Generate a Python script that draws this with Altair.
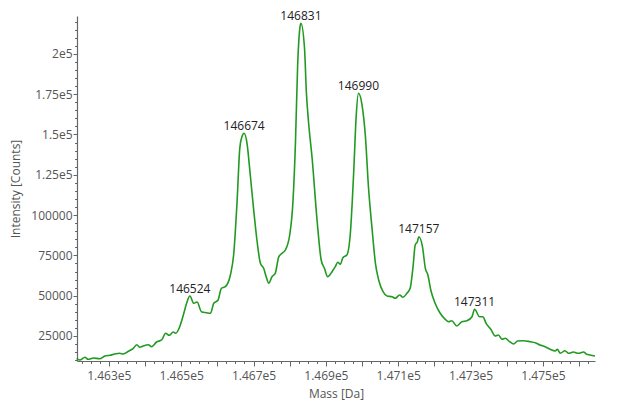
import altair as alt
import pandas as pd

mass = [146211, 146220, 146234, 146243, 146257, 146275, 146289, 146303, 146317, 146330,
        146340, 146354, 146367, 146377, 146386, 146395, 146409, 146418, 146432, 146446,
        146457, 146467, 146478, 146485, 146496, 146506, 146515, 146524, 146535, 146544,
        146556, 146570, 146581, 146590, 146602, 146611, 146622, 146636, 146645, 146655,
        146662, 146668, 146674, 146682, 146691, 146700, 146710, 146719, 146728, 146735,
        146742, 146751, 146760, 146770, 146779, 146788, 146800, 146809, 146816, 146822,
        146828, 146831, 146841, 146846, 146852, 146862, 146876, 146887, 146896, 146905,
        146917, 146926, 146933, 146940, 146947, 146958, 146968, 146977, 146984, 146990,
        147000, 147009, 147018, 147028, 147037, 147046, 147058, 147069, 147083, 147092,
        147104, 147113, 147124, 147133, 147141, 147147, 147153, 147157, 147167, 147175,
        147182, 147190, 147202, 147216, 147230, 147239, 147248, 147262, 147276, 147290,
        147304, 147311, 147325, 147334, 147343, 147356, 147368, 147377, 147387, 147396,
        147408, 147419, 147430, 147446, 147465, 147479, 147492, 147506, 147520, 147534,
        147540, 147548, 147561, 147571, 147584, 147598, 147612, 147621, 147630, 147644]

intensity = [11170, 10110, 11790, 10550, 11350, 10920, 12590, 13030, 13830, 14270,
             13830, 15510, 17120, 19600, 17990, 18800, 19600, 18360, 21280, 22520,
             26670, 25430, 27480, 26670, 30770, 38030, 45280, 49810, 45280, 46090,
             40070, 39450, 39080, 45280, 47330, 54590, 55580, 62840, 75240, 110400,
             141430, 148630, 150740, 144530, 124870, 104210, 83490, 70100, 66990, 61780,
             57690, 61780, 63890, 74190, 76300, 78350, 87650, 108310, 145520, 193100,
             215870, 218970, 203460, 176540, 157930, 135230, 95900, 72140, 66990, 61780,
             64890, 67990, 70720, 69480, 73570, 75240, 89700, 126920, 162090, 175550,
             168290, 149680, 116620, 90750, 70100, 59740, 52480, 49810, 49380, 48390,
             50430, 49010, 51490, 54590, 67990, 81450, 83490, 86600, 80390, 66990,
             62840, 53530, 45280, 39080, 35360, 33870, 34490, 31200, 33870, 34490,
             36970, 41560, 36970, 36970, 32880, 29160, 25000, 25620, 22950, 23570,
             21460, 20040, 21900, 22080, 21460, 20840, 19420, 18360, 16750, 15700,
             16750, 14270, 15880, 14270, 15080, 14270, 15080, 13650, 13210, 12590]

peak_mass = [146524, 146674, 146831, 146990, 147157, 147311]
peak_intensity = [49810, 150740, 218970, 175550, 86600, 41560]
peak_label = ["146524", "146674", "146831", "146990", "147157", "147311"]

x_domain = [146212, 147644]
y_domain = [9490, 223500]
x_ticks = list(range(146225, 147626, 25))
y_ticks = list(range(10000, 220001, 5000))

df = pd.DataFrame({"mass": mass, "intensity": intensity})
peaks = pd.DataFrame({"mass": peak_mass, "intensity": peak_intensity, "label": peak_label})

FONT = "Open Sans"

x_enc = alt.X(
    "mass:Q",
    scale=alt.Scale(domain=x_domain, nice=False, zero=False),
    axis=alt.Axis(
        title="Mass [Da]",
        values=x_ticks,
        tickCount=1000,
        labelExpr="(datum.value % 200 == 100) ? (datum.value / 100000) + 'e5' : ''",
        tickSize={"condition": {"test": "datum.value % 100 == 0", "value": 5}, "value": 2.5},
        labelOverlap=False,
        labelFlush=False,
        grid=False,
        labelPadding=4,
        titlePadding=7,
    ),
)
y_enc = alt.Y(
    "intensity:Q",
    scale=alt.Scale(domain=y_domain, nice=False, zero=False),
    axis=alt.Axis(
        title="Intensity [Counts]",
        values=y_ticks,
        tickCount=1000,
        labelExpr="(datum.value % 25000 != 0) ? '' : (datum.value >= 125000 ? (datum.value / 100000) + 'e5' : '' + datum.value)",
        tickSize={"condition": {"test": "datum.value % 25000 == 0", "value": 4}, "value": 2.5},
        labelOverlap=False,
        labelFlush=False,
        grid=False,
        labelPadding=1,
        titlePadding=8,
    ),
)

line = alt.Chart(df).mark_line(color="#229a22", strokeWidth=1.6, interpolate="monotone").encode(
    x=x_enc, y=y_enc
)

text = alt.Chart(peaks).mark_text(
    baseline="alphabetic", dy=-3.5, font=FONT, fontSize=12, color="#222222"
).encode(x="mass:Q", y="intensity:Q", text="label:N")

chart = (
    alt.layer(line, text)
    .properties(
        width=518,
        height=345,
        autosize=alt.AutoSizeParams(type="none"),
        padding={"left": 69, "top": 8, "right": 17, "bottom": 44},
    )
    .configure_view(stroke=None)
    .configure_axis(
        labelFont=FONT,
        titleFont=FONT,
        labelFontSize=12,
        titleFontSize=12,
        titleFontWeight="normal",
        labelColor="#555555",
        titleColor="#555555",
        domainColor="#666666",
        tickColor="#666666",
        domainWidth=1.2,
    )
)

chart.save("out.html", embed_options={"renderer": "svg", "actions": False})
